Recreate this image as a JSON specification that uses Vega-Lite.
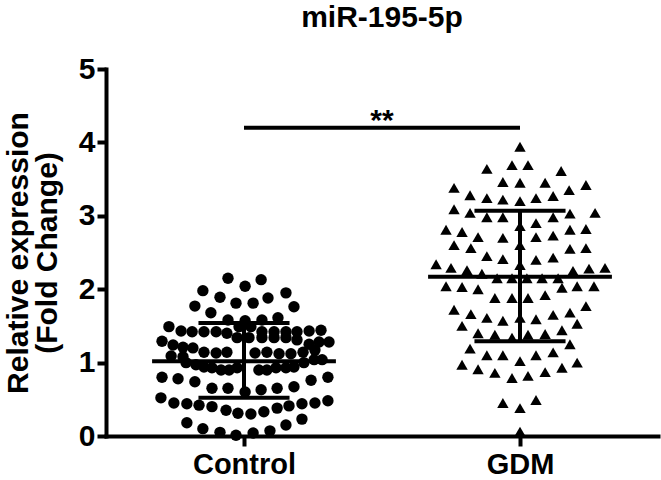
{
  "$schema": "https://vega.github.io/schema/vega-lite/v6.json",
  "width": 552,
  "height": 367,
  "autosize": {"type": "none"},
  "padding": {"left": 106, "top": 69, "right": 3, "bottom": 44},
  "background": "white",
  "config": {
    "view": {"stroke": null},
    "font": "Liberation Sans",
    "axis": {"grid": false, "domainColor": "black", "tickColor": "black", "labelColor": "black", "titleColor": "black", "domainWidth": 4, "tickWidth": 4, "domainCap": "square"}
  },
  "title": {"text": "miR-195-5p", "fontSize": 30, "fontWeight": "bold", "font": "Liberation Sans", "color": "black", "offset": 21, "anchor": "middle"},
  "datasets": {
    "points": [
      {"group":"Control","jitter":-0.058,"value":2.15},{"group":"Control","jitter":0.062,"value":2.13},{"group":"Control","jitter":0.004,"value":2.04},{"group":"Control","jitter":-0.149,"value":1.98},{"group":"Control","jitter":0.152,"value":1.95},{"group":"Control","jitter":-0.087,"value":1.89},{"group":"Control","jitter":0.087,"value":1.88},{"group":"Control","jitter":-0.178,"value":1.77},{"group":"Control","jitter":-0.029,"value":1.81},{"group":"Control","jitter":0.033,"value":1.81},{"group":"Control","jitter":0.181,"value":1.76},{"group":"Control","jitter":-0.12,"value":1.68},{"group":"Control","jitter":-0.058,"value":1.58},{"group":"Control","jitter":0.004,"value":1.57},{"group":"Control","jitter":0.065,"value":1.58},{"group":"Control","jitter":0.123,"value":1.61},
      {"group":"Control","jitter":-0.272,"value":1.49},{"group":"Control","jitter":-0.228,"value":1.43},{"group":"Control","jitter":-0.188,"value":1.42},{"group":"Control","jitter":-0.145,"value":1.42},{"group":"Control","jitter":-0.101,"value":1.42},{"group":"Control","jitter":-0.062,"value":1.4},{"group":"Control","jitter":-0.018,"value":1.49},{"group":"Control","jitter":0.025,"value":1.49},{"group":"Control","jitter":0.065,"value":1.42},{"group":"Control","jitter":0.109,"value":1.42},{"group":"Control","jitter":0.152,"value":1.42},{"group":"Control","jitter":0.192,"value":1.42},{"group":"Control","jitter":0.236,"value":1.43},{"group":"Control","jitter":0.279,"value":1.44},
      {"group":"Control","jitter":-0.297,"value":1.29},{"group":"Control","jitter":-0.257,"value":1.24},{"group":"Control","jitter":-0.221,"value":1.21},{"group":"Control","jitter":-0.185,"value":1.2},{"group":"Control","jitter":-0.025,"value":1.34},{"group":"Control","jitter":0.018,"value":1.34},{"group":"Control","jitter":0.065,"value":1.34},{"group":"Control","jitter":0.109,"value":1.34},{"group":"Control","jitter":0.152,"value":1.34},{"group":"Control","jitter":0.192,"value":1.31},{"group":"Control","jitter":0.236,"value":1.25},{"group":"Control","jitter":0.272,"value":1.28},{"group":"Control","jitter":0.308,"value":1.28},
      {"group":"Control","jitter":-0.264,"value":1.09},{"group":"Control","jitter":-0.221,"value":1.08},{"group":"Control","jitter":-0.145,"value":1.14},{"group":"Control","jitter":-0.101,"value":1.13},{"group":"Control","jitter":-0.062,"value":1.14},{"group":"Control","jitter":0.04,"value":1.13},{"group":"Control","jitter":0.083,"value":1.14},{"group":"Control","jitter":0.127,"value":1.12},{"group":"Control","jitter":0.17,"value":1.12},{"group":"Control","jitter":0.214,"value":1.14},{"group":"Control","jitter":0.257,"value":1.17},
      {"group":"Control","jitter":-0.21,"value":1.0},{"group":"Control","jitter":-0.174,"value":0.97},{"group":"Control","jitter":-0.145,"value":0.94},{"group":"Control","jitter":-0.116,"value":0.93},{"group":"Control","jitter":-0.083,"value":0.9},{"group":"Control","jitter":-0.054,"value":0.9},{"group":"Control","jitter":-0.025,"value":0.93},{"group":"Control","jitter":0.054,"value":0.9},{"group":"Control","jitter":0.083,"value":0.9},{"group":"Control","jitter":0.116,"value":0.93},{"group":"Control","jitter":0.152,"value":0.93},{"group":"Control","jitter":0.181,"value":0.94},{"group":"Control","jitter":0.217,"value":1.0},{"group":"Control","jitter":0.254,"value":1.04},{"group":"Control","jitter":0.283,"value":1.04},
      {"group":"Control","jitter":-0.297,"value":0.8},{"group":"Control","jitter":-0.239,"value":0.78},{"group":"Control","jitter":-0.178,"value":0.74},{"group":"Control","jitter":-0.116,"value":0.65},{"group":"Control","jitter":-0.058,"value":0.65},{"group":"Control","jitter":0.004,"value":0.6},{"group":"Control","jitter":0.062,"value":0.63},{"group":"Control","jitter":0.12,"value":0.65},{"group":"Control","jitter":0.181,"value":0.67},{"group":"Control","jitter":0.243,"value":0.76},{"group":"Control","jitter":0.304,"value":0.8},
      {"group":"Control","jitter":-0.301,"value":0.52},{"group":"Control","jitter":-0.254,"value":0.45},{"group":"Control","jitter":-0.207,"value":0.44},{"group":"Control","jitter":-0.163,"value":0.42},{"group":"Control","jitter":-0.116,"value":0.4},{"group":"Control","jitter":-0.065,"value":0.35},{"group":"Control","jitter":-0.022,"value":0.31},{"group":"Control","jitter":0.025,"value":0.3},{"group":"Control","jitter":0.072,"value":0.33},{"group":"Control","jitter":0.12,"value":0.38},{"group":"Control","jitter":0.163,"value":0.41},{"group":"Control","jitter":0.21,"value":0.44},{"group":"Control","jitter":0.257,"value":0.45},{"group":"Control","jitter":0.304,"value":0.48},
      {"group":"Control","jitter":-0.207,"value":0.18},{"group":"Control","jitter":-0.149,"value":0.1},{"group":"Control","jitter":-0.087,"value":0.05},{"group":"Control","jitter":-0.029,"value":0.01},{"group":"Control","jitter":0.033,"value":0.04},{"group":"Control","jitter":0.094,"value":0.07},{"group":"Control","jitter":0.152,"value":0.15},{"group":"Control","jitter":0.21,"value":0.23},
      {"group":"GDM","jitter":0,"value":3.94},{"group":"GDM","jitter":-0.12,"value":3.64},{"group":"GDM","jitter":-0.029,"value":3.69},{"group":"GDM","jitter":0.029,"value":3.69},{"group":"GDM","jitter":0.149,"value":3.61},{"group":"GDM","jitter":-0.062,"value":3.46},{"group":"GDM","jitter":0,"value":3.45},{"group":"GDM","jitter":0.091,"value":3.45},{"group":"GDM","jitter":-0.239,"value":3.38},{"group":"GDM","jitter":0.178,"value":3.35},{"group":"GDM","jitter":0.239,"value":3.42},{"group":"GDM","jitter":-0.181,"value":3.28},{"group":"GDM","jitter":-0.12,"value":3.24},{"group":"GDM","jitter":-0.062,"value":3.22},{"group":"GDM","jitter":0,"value":3.2},{"group":"GDM","jitter":0.058,"value":3.24},{"group":"GDM","jitter":0.12,"value":3.27},
      {"group":"GDM","jitter":-0.239,"value":3.09},{"group":"GDM","jitter":-0.181,"value":3.04},{"group":"GDM","jitter":-0.12,"value":2.98},{"group":"GDM","jitter":-0.062,"value":2.98},{"group":"GDM","jitter":0.12,"value":2.98},{"group":"GDM","jitter":0.181,"value":3.03},{"group":"GDM","jitter":0.272,"value":3.04},
      {"group":"GDM","jitter":-0.268,"value":2.81},{"group":"GDM","jitter":-0.21,"value":2.78},{"group":"GDM","jitter":-0.152,"value":2.71},{"group":"GDM","jitter":-0.062,"value":2.7},{"group":"GDM","jitter":0.058,"value":2.9},{"group":"GDM","jitter":0.058,"value":2.71},{"group":"GDM","jitter":0.12,"value":2.73},{"group":"GDM","jitter":0.181,"value":2.81},{"group":"GDM","jitter":0.239,"value":2.82},
      {"group":"GDM","jitter":0,"value":2.86},{"group":"GDM","jitter":0,"value":2.6},{"group":"GDM","jitter":0,"value":2.33},{"group":"GDM","jitter":0,"value":1.61},
      {"group":"GDM","jitter":-0.239,"value":2.6},{"group":"GDM","jitter":-0.178,"value":2.56},{"group":"GDM","jitter":0.181,"value":2.55},{"group":"GDM","jitter":0.239,"value":2.56},{"group":"GDM","jitter":-0.12,"value":2.45},{"group":"GDM","jitter":-0.062,"value":2.41},{"group":"GDM","jitter":0.058,"value":2.4},{"group":"GDM","jitter":0.12,"value":2.43},
      {"group":"GDM","jitter":-0.304,"value":2.34},{"group":"GDM","jitter":-0.25,"value":2.29},{"group":"GDM","jitter":-0.192,"value":2.26},{"group":"GDM","jitter":-0.138,"value":2.21},{"group":"GDM","jitter":-0.083,"value":2.15},{"group":"GDM","jitter":-0.029,"value":2.15},{"group":"GDM","jitter":0.025,"value":2.15},{"group":"GDM","jitter":0.08,"value":2.15},{"group":"GDM","jitter":0.138,"value":2.15},{"group":"GDM","jitter":0.192,"value":2.25},{"group":"GDM","jitter":0.25,"value":2.28},{"group":"GDM","jitter":0.308,"value":2.29},
      {"group":"GDM","jitter":-0.268,"value":2.04},{"group":"GDM","jitter":-0.21,"value":2.03},{"group":"GDM","jitter":-0.152,"value":2.0},{"group":"GDM","jitter":0.152,"value":2.02},{"group":"GDM","jitter":0.207,"value":2.04},{"group":"GDM","jitter":0.268,"value":2.04},
      {"group":"GDM","jitter":-0.091,"value":1.88},{"group":"GDM","jitter":-0.029,"value":1.88},{"group":"GDM","jitter":0.029,"value":1.88},{"group":"GDM","jitter":0.091,"value":1.92},
      {"group":"GDM","jitter":-0.239,"value":1.72},{"group":"GDM","jitter":-0.178,"value":1.66},{"group":"GDM","jitter":-0.12,"value":1.61},{"group":"GDM","jitter":-0.062,"value":1.57},{"group":"GDM","jitter":0.058,"value":1.59},{"group":"GDM","jitter":0.12,"value":1.65},{"group":"GDM","jitter":0.181,"value":1.68},{"group":"GDM","jitter":0.239,"value":1.77},
      {"group":"GDM","jitter":-0.21,"value":1.5},{"group":"GDM","jitter":-0.152,"value":1.4},{"group":"GDM","jitter":-0.091,"value":1.38},{"group":"GDM","jitter":-0.029,"value":1.34},{"group":"GDM","jitter":0.029,"value":1.38},{"group":"GDM","jitter":0.091,"value":1.39},{"group":"GDM","jitter":0.152,"value":1.44},{"group":"GDM","jitter":0.207,"value":1.53},
      {"group":"GDM","jitter":0.181,"value":1.25},{"group":"GDM","jitter":-0.181,"value":1.19},{"group":"GDM","jitter":-0.12,"value":1.1},{"group":"GDM","jitter":-0.062,"value":1.1},{"group":"GDM","jitter":0,"value":1.02},{"group":"GDM","jitter":0.058,"value":1.1},{"group":"GDM","jitter":0.12,"value":1.14},
      {"group":"GDM","jitter":-0.21,"value":0.97},{"group":"GDM","jitter":-0.152,"value":0.91},{"group":"GDM","jitter":-0.091,"value":0.86},{"group":"GDM","jitter":-0.029,"value":0.79},{"group":"GDM","jitter":0.029,"value":0.82},{"group":"GDM","jitter":0.091,"value":0.87},{"group":"GDM","jitter":0.152,"value":0.93},{"group":"GDM","jitter":0.207,"value":1.0},
      {"group":"GDM","jitter":-0.062,"value":0.45},{"group":"GDM","jitter":0,"value":0.38},{"group":"GDM","jitter":0.058,"value":0.49},{"group":"GDM","jitter":0,"value":0.06}
    ],
    "summary": [
      {"group": "Control", "mean": 1.02, "lo": 0.52, "hi": 1.54},
      {"group": "GDM", "mean": 2.17, "lo": 1.29, "hi": 3.07}
    ],
    "sig": [
      {"from": "Control", "to": "GDM", "level": 4.2, "label": "**"}
    ]
  },
  "layer": [
    {
      "data": {"name": "points"},
      "transform": [{"calculate": "(datum.group == 'Control' ? 1 : 2) + datum.jitter", "as": "pos"}],
      "mark": {"type": "point", "filled": true, "opacity": 1, "size": 130, "color": "black"},
      "encoding": {
        "x": {"field": "pos", "type": "quantitative", "scale": {"domain": [0.5, 2.5], "nice": false, "zero": false},
          "axis": {"title": null, "values": [1, 2], "labelExpr": "datum.value == 1 ? 'Control' : 'GDM'", "tickSize": 10, "labelFontSize": 29, "labelFontWeight": "bold", "labelPadding": 4, "labelFont": "Liberation Sans"}},
        "y": {"field": "value", "type": "quantitative", "scale": {"domain": [0, 5], "nice": false},
          "axis": {"title": ["Relative expression", "(Fold Change)"], "values": [0, 1, 2, 3, 4, 5], "format": "d", "tickSize": 9, "labelFontSize": 30, "labelFontWeight": "bold", "labelPadding": 2, "labelFont": "Liberation Sans", "titleFontSize": 30, "titleFontWeight": "bold", "titleFont": "Liberation Sans", "titleLineHeight": 29, "titlePadding": 16}},
        "shape": {"field": "group", "type": "nominal", "scale": {"domain": ["Control", "GDM"], "range": ["circle", "triangle-up"]}, "legend": null}
      }
    },
    {
      "data": {"name": "summary"},
      "transform": [
        {"calculate": "datum.group == 'Control' ? 1 : 2", "as": "pos"},
        {"calculate": "datum.pos - 0.333", "as": "m0"},
        {"calculate": "datum.pos + 0.333", "as": "m1"}
      ],
      "mark": {"type": "rule", "strokeWidth": 4, "color": "black"},
      "encoding": {
        "x": {"field": "m0", "type": "quantitative"},
        "x2": {"field": "m1"},
        "y": {"field": "mean", "type": "quantitative"}
      }
    },
    {
      "data": {"name": "summary"},
      "transform": [{"calculate": "datum.group == 'Control' ? 1 : 2", "as": "pos"}],
      "mark": {"type": "rule", "strokeWidth": 4, "color": "black"},
      "encoding": {
        "x": {"field": "pos", "type": "quantitative"},
        "y": {"field": "lo", "type": "quantitative"},
        "y2": {"field": "hi"}
      }
    },
    {
      "data": {"name": "summary"},
      "transform": [
        {"fold": ["lo", "hi"], "as": ["end", "level"]},
        {"calculate": "datum.group == 'Control' ? 1 : 2", "as": "pos"},
        {"calculate": "datum.pos - 0.165", "as": "c0"},
        {"calculate": "datum.pos + 0.165", "as": "c1"}
      ],
      "mark": {"type": "rule", "strokeWidth": 4, "color": "black"},
      "encoding": {
        "x": {"field": "c0", "type": "quantitative"},
        "x2": {"field": "c1"},
        "y": {"field": "level", "type": "quantitative"}
      }
    },
    {
      "data": {"name": "sig"},
      "transform": [
        {"calculate": "datum.from == 'Control' ? 1 : 2", "as": "p0"},
        {"calculate": "datum.to == 'Control' ? 1 : 2", "as": "p1"}
      ],
      "mark": {"type": "rule", "strokeWidth": 4, "color": "black"},
      "encoding": {
        "x": {"field": "p0", "type": "quantitative"},
        "x2": {"field": "p1"},
        "y": {"field": "level", "type": "quantitative"}
      }
    },
    {
      "data": {"name": "sig"},
      "transform": [
        {"calculate": "((datum.from == 'Control' ? 1 : 2) + (datum.to == 'Control' ? 1 : 2)) / 2", "as": "mid"}
      ],
      "mark": {"type": "text", "fontSize": 30, "fontWeight": "bold", "font": "Liberation Sans", "color": "black", "baseline": "alphabetic", "dy": 2},
      "encoding": {
        "x": {"field": "mid", "type": "quantitative"},
        "y": {"field": "level", "type": "quantitative"},
        "text": {"field": "label"}
      }
    }
  ]
}
